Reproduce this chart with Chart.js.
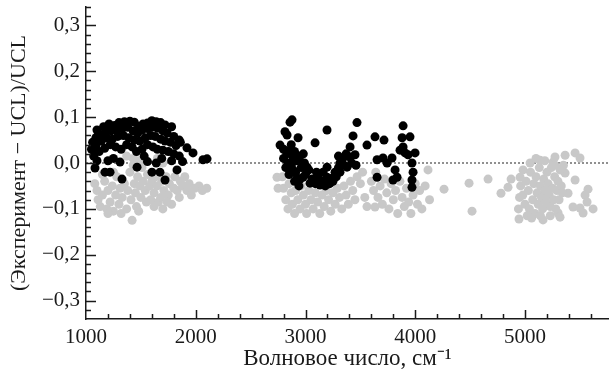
<!DOCTYPE html>
<html>
<head>
<meta charset="utf-8">
<script src="https://cdn.jsdelivr.net/npm/chart.js@4"></script>
<style>
  html, body { margin: 0; padding: 0; background: #fff; overflow: hidden; }
</style>
</head>
<body>
<canvas id="scatterChart" width="609" height="380"></canvas>
<script>
// black points (first series) as [wavenumber, residual]
const blackBand1 = [
  [1100,0.072],[1160,0.079],[1210,0.085],[1260,0.082],[1300,0.088],[1350,0.090],[1400,0.091],[1440,0.089],
  [1480,0.080],[1520,0.085],[1560,0.087],[1600,0.092],[1640,0.090],[1680,0.088],[1720,0.083],[1780,0.079],
  [1060,0.045],[1090,0.055],[1130,0.062],[1180,0.068],[1230,0.070],[1280,0.072],[1330,0.075],[1380,0.078],
  [1430,0.070],[1470,0.065],[1510,0.072],[1560,0.075],[1600,0.078],[1650,0.076],[1700,0.070],[1740,0.065],
  [1800,0.058],[1850,0.050],[1050,0.030],[1090,0.038],[1140,0.048],[1190,0.055],[1240,0.052],[1290,0.058],
  [1340,0.060],[1390,0.055],[1440,0.050],[1490,0.048],[1540,0.055],[1590,0.060],[1630,0.058],[1680,0.052],
  [1720,0.048],[1770,0.045],[1820,0.038],[1860,0.045],[1920,0.033],[1070,0.015],[1120,0.025],[1170,0.032],
  [1220,0.040],[1270,0.035],[1320,0.030],[1370,0.040],[1420,0.035],[1460,0.025],[1510,0.030],[1560,0.040],
  [1610,0.035],[1650,0.030],[1700,0.028],[1750,0.025],[1800,0.020],[1850,0.015],[1975,0.022],[2066,0.007],
  [2103,0.009],[1082,-0.011],[1173,-0.020],[1219,-0.020],[1328,-0.035],[1465,-0.009],[1601,-0.020],[1674,-0.020],
  [1720,-0.037],[1829,-0.015],[1310,0.002],[1560,0.003],[1640,0.000],[1780,0.005],[1100,0.005],[1880,0.003],
  [1250,0.010],[1200,0.005],[1530,0.015],[1690,0.010]
];
const blackBand2 = [
  [2859,0.089],[2877,0.094],[2813,0.068],[2832,0.061],[2932,0.055],[2768,0.039],[3196,0.072],[3087,0.044],
  [3469,0.088],[3433,0.059],[3406,0.035],[3560,0.039],[3633,0.057],[3715,0.050],[3889,0.081],[3880,0.055],
  [3952,0.057],[3889,0.035],[3998,0.022],[3907,0.022],[2859,0.028],[2886,0.013],[2841,0.000],[2886,-0.015],
  [2923,-0.033],[2977,-0.031],[3014,-0.009],[3041,-0.044],[3114,-0.031],[3132,-0.048],[3196,-0.031],[3242,-0.033],
  [3269,-0.020],[3314,0.000],[3342,0.011],[3378,-0.009],[3406,0.013],[3451,0.018],[3196,-0.009],[3314,-0.020],
  [3160,-0.020],[3652,0.007],[3652,-0.031],[3706,0.011],[3743,0.000],[3788,0.011],[3816,-0.015],[3797,-0.037],
  [3834,-0.031],[3970,0.000],[3980,-0.020],[3970,-0.037],[3970,-0.053],[3934,0.018],[3861,0.028],[2800,0.030],
  [2830,0.020],[2870,0.040],[2900,0.025],[2920,0.005],[2950,0.015],[2960,-0.010],[2990,0.000],[2820,-0.010],
  [2850,-0.025],[2900,-0.040],[2940,-0.050],[3000,-0.025],[3030,-0.015],[2870,-0.005],[2910,-0.020],[2980,0.020],
  [2800,0.010],[2950,-0.035],[3060,-0.035],[3090,-0.045],[3100,-0.020],[3150,-0.040],[3180,-0.050],[3220,-0.045],
  [3250,-0.040],[3280,-0.030],[3300,-0.010],[3350,-0.005],[3370,0.020],[3420,0.000],[3460,-0.005],[3300,0.015]
];

// grey points (second series)
const greyBand1 = [
  [1080,-0.045],[1100,-0.060],[1110,-0.080],[1130,-0.095],[1150,-0.070],[1170,-0.040],[1190,-0.100],[1200,-0.060],
  [1220,-0.085],[1240,-0.050],[1250,-0.105],[1270,-0.070],[1280,-0.030],[1300,-0.090],[1310,-0.055],[1330,-0.075],
  [1350,-0.045],[1370,-0.100],[1380,-0.060],[1400,-0.020],[1410,-0.080],[1420,-0.125],[1430,0.010],[1440,-0.045],
  [1450,-0.065],[1460,-0.095],[1470,-0.030],[1490,-0.050],[1500,-0.075],[1510,-0.010],[1520,-0.040],[1540,-0.060],
  [1550,-0.085],[1560,-0.025],[1580,-0.050],[1590,-0.080],[1600,-0.040],[1620,-0.065],[1630,-0.030],[1650,-0.050],
  [1660,-0.085],[1680,-0.075],[1690,-0.040],[1700,-0.100],[1710,-0.060],[1730,-0.030],[1750,-0.070],[1760,-0.045],
  [1780,-0.090],[1800,-0.055],[1810,-0.030],[1830,-0.060],[1850,-0.075],[1860,-0.040],[1880,-0.050],[1900,-0.030],
  [1920,-0.060],[1940,-0.045],[1960,-0.070],[1990,-0.055],[2030,-0.050],[2060,-0.060],[2100,-0.055],[1430,-0.005],
  [1370,0.015],[1480,0.005],[1650,0.010],[1700,0.000],[1250,-0.020],[1150,-0.025],[1200,-0.110],[1320,-0.110],
  [1480,-0.105],[1620,-0.095],[1740,-0.085]
];
const greyBand2 = [
  [2740,-0.031],[2750,-0.055],[2790,-0.030],[2800,-0.055],[2820,-0.080],[2840,-0.100],[2850,-0.045],[2870,-0.065],
  [2880,-0.090],[2900,-0.110],[2910,-0.060],[2930,-0.080],[2950,-0.100],[2960,-0.050],[2980,-0.070],[3000,-0.090],
  [3010,-0.110],[3030,-0.060],[3050,-0.080],[3070,-0.100],[3090,-0.065],[3110,-0.085],[3130,-0.110],[3150,-0.070],
  [3170,-0.095],[3190,-0.060],[3210,-0.080],[3230,-0.105],[3250,-0.065],[3270,-0.090],[3290,-0.055],[3310,-0.075],
  [3330,-0.100],[3350,-0.050],[3370,-0.070],[3390,-0.090],[3410,-0.040],[3430,-0.060],[3450,-0.080],[3470,-0.030],
  [3500,-0.045],[3520,-0.020],[3540,-0.075],[3560,-0.095],[3600,-0.040],[3620,-0.060],[3633,-0.096],[3640,-0.020],
  [3660,-0.075],[3680,-0.050],[3700,-0.090],[3720,-0.035],[3740,-0.065],[3760,-0.100],[3780,-0.045],[3800,-0.080],
  [3820,-0.060],[3840,-0.110],[3860,-0.040],[3880,-0.075],[3900,-0.095],[3920,-0.055],[3940,-0.085],[3960,-0.110],
  [3980,-0.070],[4000,-0.045],[4020,-0.090],[4040,-0.060],[4060,-0.100],[4090,-0.050],[4116,-0.015],[4130,-0.080]
];
const greyBand3 = [
  [4262,-0.057],[4490,-0.044],[4517,-0.105],[4663,-0.035],[4781,-0.066],[4845,-0.053],[4873,-0.035],
  [4945,-0.122],[5046,0.000],[5137,0.006],[5255,0.002],[5273,0.013],[5365,0.017],[5456,0.022],[5501,0.011],
  [5365,-0.022],[5456,-0.037],[5392,-0.066],[5574,-0.057],[5547,-0.070],[5565,-0.085],[5620,-0.100],[5437,-0.096],
  [5501,-0.098],[5529,-0.109],[5301,-0.109],[5319,-0.118],[5164,-0.124],[4982,-0.015],[4955,-0.031],
  [4960,-0.050],[4980,-0.070],[5000,-0.090],[5010,-0.040],[5030,-0.060],[5040,-0.100],[5050,-0.020],[5070,-0.080],
  [5080,-0.045],[5090,-0.110],[5100,-0.030],[5110,-0.065],[5120,-0.090],[5130,-0.010],[5140,-0.050],[5150,-0.075],
  [5160,-0.100],[5170,-0.035],[5180,-0.060],[5190,-0.085],[5200,-0.020],[5210,-0.045],[5220,-0.070],[5230,-0.095],
  [5240,-0.010],[5250,-0.055],[5260,-0.080],[5270,-0.030],[5280,-0.100],[5290,-0.060],[5300,-0.040],[5310,-0.080],
  [5320,-0.015],[5330,-0.050],[5340,-0.065],[5350,-0.005],[5020,-0.115],[5060,-0.120],[5140,-0.115],[5230,-0.115],
  [4950,-0.075],[4940,-0.100],[5270,-0.005],[5180,0.005],[5100,0.010]
];

const xTickValues = [1000, 2000, 3000, 4000, 5000];
const xTickLabels = ['1000', '2000', '3000', '4000', '5000'];
const yTickValues = [-0.3, -0.2, -0.1, 0, 0.1, 0.2, 0.3];
const yTickLabels = ['\u22120,3', '\u22120,2', '\u22120,1', '0,0', '0,1', '0,2', '0,3'];

const toPoints = list => list.map(([x, y]) => ({x, y}));
const FONT = 'Liberation Serif';
const INK = '#1a1a1a';

// inward ticks (major + minor) and the dotted zero line
const axisTicks = {
  id: 'axisTicks',
  beforeDatasetsDraw(chart) {
    const {ctx, chartArea: a, scales: {y}} = chart;
    const y0 = y.getPixelForValue(0);
    ctx.save();
    ctx.setLineDash([2, 2]);
    ctx.strokeStyle = '#222';
    ctx.lineWidth = 1;
    ctx.beginPath();
    ctx.moveTo(a.left, y0);
    ctx.lineTo(a.right, y0);
    ctx.stroke();
    ctx.restore();
  },
  afterDraw(chart) {
    const {ctx, chartArea: a, scales: {x, y}} = chart;
    ctx.save();
    ctx.strokeStyle = INK;
    ctx.lineWidth = 1.5;
    ctx.beginPath();
    for (let v = 1200; v <= x.max; v += 200) {
      const px = Math.round(x.getPixelForValue(v)) + 0.5;
      const len = v % 1000 === 0 ? 9 : 5;
      ctx.moveTo(px, a.bottom);
      ctx.lineTo(px, a.bottom - len);
    }
    for (let i = -16; i <= 17; i++) {
      const py = Math.round(y.getPixelForValue(i * 0.02)) + 0.5;
      const len = i % 5 === 0 ? 10 : 5;
      ctx.moveTo(a.left, py);
      ctx.lineTo(a.left + len, py);
    }
    ctx.stroke();
    ctx.restore();
  }
};

new Chart(document.getElementById('scatterChart').getContext('2d'), {
  type: 'scatter',
  data: {
    datasets: [
      {
        label: 'black',
        data: toPoints([...blackBand1, ...blackBand2]),
        backgroundColor: '#000',
        borderWidth: 0,
        pointRadius: 4.5,
        order: 0
      },
      {
        label: 'grey',
        data: toPoints([...greyBand1, ...greyBand2, ...greyBand3]),
        backgroundColor: 'rgb(200,200,200)',
        borderWidth: 0,
        pointRadius: 4.5,
        order: 1
      }
    ]
  },
  options: {
    responsive: false,
    animation: false,
    layout: { autoPadding: false, padding: { top: 7, right: 0, left: 0, bottom: 0 } },
    plugins: { legend: { display: false }, tooltip: { enabled: false } },
    scales: {
      x: {
        type: 'linear',
        min: 1000,
        max: 5765,
        grid: { display: false, drawTicks: false },
        border: { display: true, color: INK, width: 1.5 },
        afterBuildTicks: s => { s.ticks = xTickValues.map(v => ({value: v})); },
        afterFit: s => { s.height = 61; s.paddingLeft = 0; s.paddingRight = 0; },
        ticks: {
          autoSkip: false,
          maxRotation: 0,
          padding: 6,
          color: INK,
          font: { family: FONT, size: 21 },
          callback: (v, i) => xTickLabels[i]
        },
        title: {
          display: true,
          text: 'Волновое число, см\u207B\u00B9',
          color: INK,
          font: { family: FONT, size: 23 },
          padding: { top: 0, bottom: 7 }
        }
      },
      y: {
        min: -0.34,
        max: 0.34,
        grid: { display: false, drawTicks: false },
        border: { display: true, color: INK, width: 1.5 },
        afterBuildTicks: s => { s.ticks = yTickValues.map(v => ({value: v})); },
        afterFit: s => { s.width = 86; s.paddingTop = 0; s.paddingBottom = 0; },
        ticks: {
          autoSkip: false,
          padding: 6,
          color: INK,
          font: { family: FONT, size: 21 },
          callback: (v, i) => yTickLabels[i]
        },
        title: {
          display: true,
          text: '(Эксперимент \u2212 UCL)/UCL',
          color: INK,
          font: { family: FONT, size: 22 },
          padding: { top: 6, bottom: 0 }
        }
      }
    }
  },
  plugins: [axisTicks]
});
</script>
</body>
</html>
